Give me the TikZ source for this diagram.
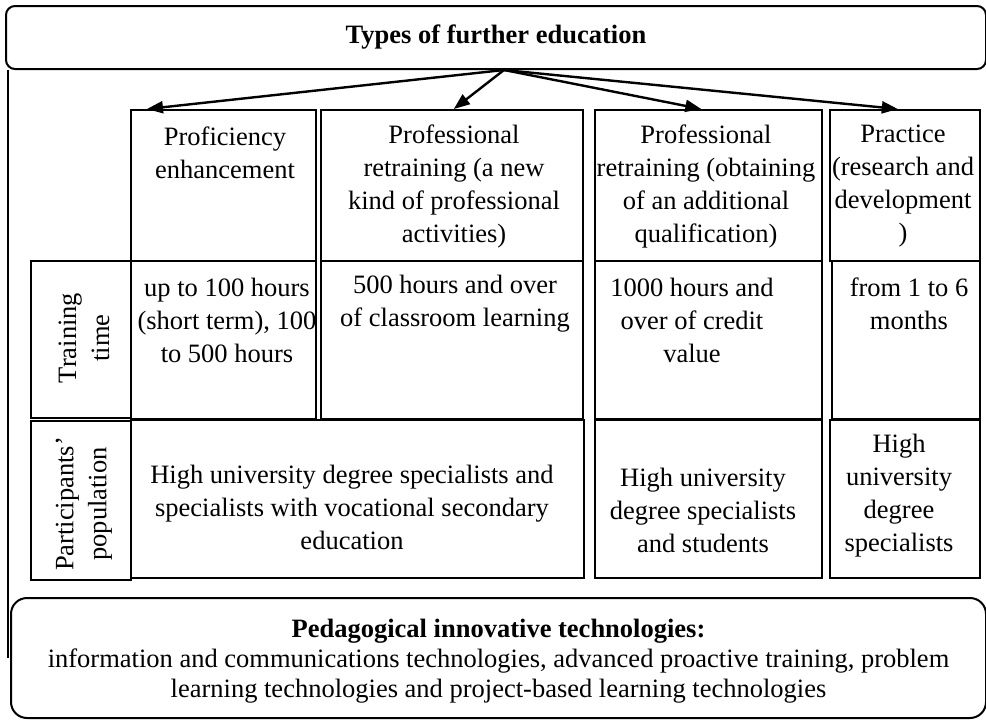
\documentclass[tikz,border=0pt]{standalone}
\usepackage{fontspec}
\setmainfont{Liberation Serif}
\usetikzlibrary{arrows.meta}
\tikzset{
  cellbox/.style={draw, line width=1.6pt, inner sep=0pt, anchor=north west},
  celltxt/.style={font=\fontsize{26.5}{33}\selectfont, align=center, inner sep=0pt},
  roundbox/.style={draw, line width=2pt, inner sep=0pt, anchor=north west, align=center},
  arr/.style={line width=2.4pt, -{Triangle[length=16pt,width=12pt]}}
}
\newcommand\mycell[5]{\node[cellbox, minimum width={(#4-#2)*1pt}, minimum height={(#5-#3)*1pt}] (#1) at (#2,#3) {};}
\begin{document}
\begin{tikzpicture}[x=1pt,y=-1pt]
\useasboundingbox (0,0) rectangle (986,720);
% top box
\node[roundbox, rounded corners=9pt, minimum width=980pt, minimum height=63pt,
      font=\fontsize{26.5}{33}\selectfont\bfseries] (top) at (5,5) {Types of further education};
% bottom box
\node[roundbox, rounded corners=16pt, minimum width=975pt, minimum height=120pt,
      font=\fontsize{26.5}{30}\selectfont] (bot) at (10,597)
  {\rule{0pt}{24pt}\textbf{Pedagogical innovative technologies:}\\
   information and communications technologies, advanced proactive training, problem\\
   learning technologies and project-based learning technologies};
% outer left line
\draw[line width=1.6pt] (top.south west) ++(3,0) coordinate (ol1) -- (ol1 |- bot.west) coordinate (ol2);
% header row
\mycell{h1}{130}{109}{315}{260}
\mycell{h2}{320}{109}{582}{260}
\mycell{h3}{594}{109}{821}{260}
\mycell{h4}{829}{109}{979}{260}
% training row
\mycell{lt}{30}{260}{130}{417}
\mycell{t1}{130}{260}{315}{418}
\mycell{t2}{320}{260}{582}{418}
\mycell{t3}{594}{260}{821}{418}
\mycell{t4}{831}{260}{979}{418}
% population row
\mycell{lp}{30}{420}{130}{579}
\mycell{p1}{130}{419}{583}{577}
\mycell{p3}{594}{419}{821}{577}
\mycell{p4}{829}{419}{979}{577}
% texts
\node[celltxt] (h1t) at (225,153) {Proficiency\\enhancement};
\node[celltxt] (h2t) at (454,186) {Professional\\retraining (a new\\kind of professional\\activities)};
\node[celltxt] (h3t) at (706,186) {Professional\\retraining (obtaining\\of an additional\\qualification)};
\node[celltxt] (h4t) at (903,186) {Practice\\(research and\\development\\)};
\node[celltxt] (t1t) at (227,320) {up to 100 hours\\(short term), 100\\to 500 hours};
\node[celltxt] (t2t) at (455,304) {500 hours and over\\of classroom learning};
\node[celltxt] (t3t) at (692,320) {1000 hours and\\over of credit\\value};
\node[celltxt] (t4t) at (909,304) {from 1 to 6\\months};
\node[celltxt, rotate=90] (ltt) at (84,338) {Training\\time};
\node[celltxt, rotate=90] (lpt) at (84,504) {Participants’\\population};
\node[celltxt] (p1t) at (352,507) {High university degree specialists and\\specialists with vocational secondary\\education};
\node[celltxt] (p3t) at (703,510) {High university\\degree specialists\\and students};
\node[celltxt] (p4t) at (899,496) {High\\university\\degree\\specialists};
% arrows
\coordinate (src) at ([xshift=8pt]top.south);
\draw[arr] (src) -- ([xshift=17pt]h1.north west);
\draw[arr] (src) -- ([xshift=2pt]h2.north);
\draw[arr] (src) -- ([xshift=-7pt]h3.north);
\draw[arr] (src) -- ([xshift=-7pt]h4.north);
\end{tikzpicture}
\end{document}
